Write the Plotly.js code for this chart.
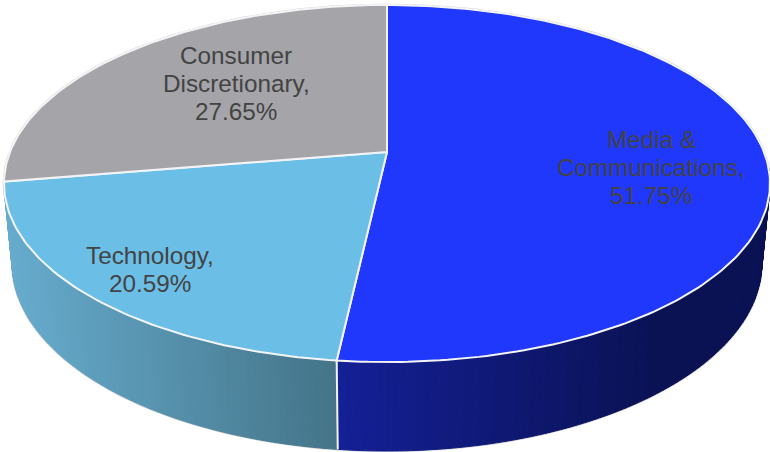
<!DOCTYPE html>
<html>
<head>
<meta charset="utf-8">
<script src="https://cdn.plot.ly/plotly-3.0.1.min.js"></script>
<style>html,body{margin:0;padding:0;background:#fff}#chart{width:770px;height:452px}</style>
</head>
<body>
<div id="chart"></div>
<script>
// Sector weights, drawn clockwise from twelve o'clock
const sectors = ["Media & Communications", "Technology", "Consumer Discretionary"];
const weights = [51.75, 20.59, 27.65];
const faceColors = ["#2038fb", "#6bbfe6", "#a5a5a9"];
const wallFrom = [[20, 32, 150], [103, 172, 206], null];
const wallTo = [[10, 18, 84], [68, 116, 136], null];
const labelLines = [["Media &", "Communications,"], ["Technology,"], ["Consumer", "Discretionary,"]];
const labelCenterX = [651, 150, 236];
const labelFirstY = [139, 255, 55];

// Perspective projection of the disc: k sets the tilt foreshortening
const k = 0.1765;
const topDisc = {cx: 387, cy: 152, a: 377, b: 173};
const baseDisc = {cx: 387, cy: 230, a: 369, b: 182};
function project(disc, deg) {
  const t = deg * Math.PI / 180, u = Math.sin(t), v = Math.cos(t), w = 1 + k * v;
  return [disc.cx + disc.a * u / w, disc.cy - disc.b * v / w];
}
function arc(disc, from, to, stepDeg) {
  const n = Math.max(1, Math.ceil(Math.abs(to - from) / stepDeg)), pts = [];
  for (let i = 0; i <= n; i++) pts.push(project(disc, from + (to - from) * i / n));
  return pts;
}
function polygon(pts, fill, lineColor, lineWidth) {
  return {
    type: "scatter", mode: "lines", fill: "toself", fillcolor: fill,
    x: pts.map(p => p[0]), y: pts.map(p => p[1]),
    line: {color: lineColor, width: lineWidth}, hoverinfo: "skip", showlegend: false
  };
}
function mix(a, b, t) {
  return "rgb(" + a.map((c, i) => Math.round(c + (b[i] - c) * t)).join(",") + ")";
}

const total = weights.reduce((s, w) => s + w, 0);
let running = 0;
const spans = weights.map(w => {
  const s = [running, running + w / total * 360];
  running = s[1];
  return s;
});

const traces = [];

// Pale halo around the outer rim of the disc
traces.push(polygon(arc(topDisc, 0, 360, 2), "#d4d4d6", "#d4d4d6", 2.5));

// Side wall: only the part facing the viewer is visible
const wallStart = 95, wallEnd = spans[1][1];
traces.push(polygon(
  arc(topDisc, wallStart, wallEnd, 2).concat(arc(baseDisc, wallEnd, wallStart, 2)),
  "#d4d4d6", "#d4d4d6", 2.5));

spans.forEach((span, i) => {
  if (!wallFrom[i]) return;
  const a0 = Math.max(span[0], wallStart), a1 = span[1];
  const lo = project(topDisc, a1)[0];
  const hi = i === 0 ? project(topDisc, 100)[0] : project(topDisc, a0)[0];
  const n = Math.ceil((a1 - a0) / 1);
  for (let s = 0; s < n; s++) {
    const b0 = a0 + (a1 - a0) * s / n, b1 = a0 + (a1 - a0) * (s + 1) / n;
    const midX = project(topDisc, (b0 + b1) / 2)[0];
    const t = Math.min(1, Math.max(0, (midX - lo) / (hi - lo)));
    const c = i === 0 ? mix(wallFrom[i], wallTo[i], Math.min(1, t * 1.35)) : mix(wallFrom[i], wallTo[i], t);
    const q = [project(topDisc, b0), project(topDisc, b1), project(baseDisc, b1), project(baseDisc, b0)];
    traces.push(polygon(q.concat([q[0]]), c, c, 1));
  }
});

// Seam between the two visible wall sections
const seam = spans[0][1];
traces.push({
  type: "scatter", mode: "lines",
  x: [project(topDisc, seam)[0], project(baseDisc, seam)[0]],
  y: [project(topDisc, seam)[1], project(baseDisc, seam)[1]],
  line: {color: "#f2f2f4", width: 2}, hoverinfo: "skip", showlegend: false
});

// Top face slices
spans.forEach((span, i) => {
  const pts = [[topDisc.cx, topDisc.cy]].concat(arc(topDisc, span[0], span[1], 1));
  pts.push([topDisc.cx, topDisc.cy]);
  traces.push(polygon(pts, faceColors[i], "#f4f4f6", 2));
});

// Labels are one annotation per line to keep the tight leading
const annotations = [];
labelLines.forEach((lines, i) => {
  lines.concat([weights[i].toFixed(2) + "%"]).forEach((text, j) => {
    annotations.push({
      x: labelCenterX[i], y: labelFirstY[i] + j * 28, xref: "x", yref: "y",
      text: text, showarrow: false, xanchor: "center", yanchor: "middle",
      font: {family: "Liberation Sans, Arial, sans-serif", size: 24.3, color: "#434343"}
    });
  });
});

Plotly.newPlot("chart", traces, {
  width: 770, height: 452,
  margin: {l: 0, r: 0, t: 0, b: 0},
  paper_bgcolor: "#ffffff", plot_bgcolor: "#ffffff",
  showlegend: false, hovermode: false,
  xaxis: {range: [0, 770], visible: false, fixedrange: true},
  yaxis: {range: [452, 0], visible: false, fixedrange: true},
  annotations: annotations
}, {displayModeBar: false, staticPlot: true});
</script>
</body>
</html>
